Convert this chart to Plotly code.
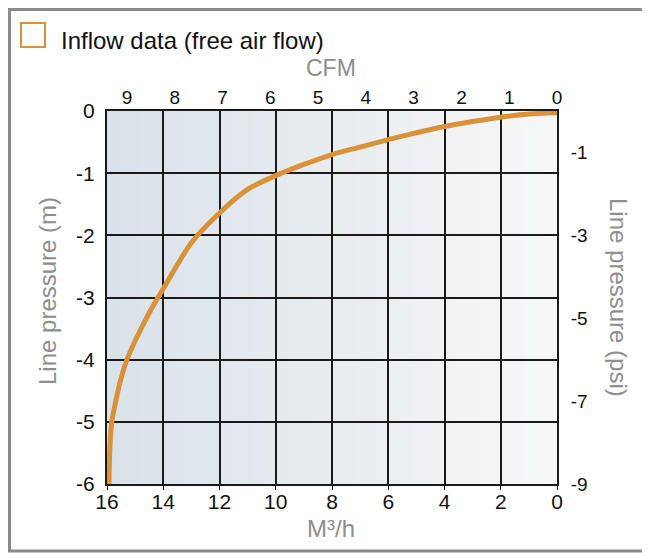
import plotly.graph_objects as go

# ---- data ----
flow_m3h = [0, 1, 2, 3, 4, 5, 6, 7, 8, 9, 10, 11, 12, 13, 14, 14.5, 15, 15.29, 15.5, 15.68, 15.83, 15.9, 15.93]
pressure_m = [-0.03, -0.05, -0.10, -0.17, -0.25, -0.35, -0.46, -0.58, -0.70, -0.86, -1.04, -1.26, -1.64, -2.12, -2.86, -3.25, -3.70, -4.0, -4.3, -4.65, -5.0, -5.45, -6.0]

m3h_ticks = [0, 2, 4, 6, 8, 10, 12, 14, 16]
m3h_labels = ["0", "2", "4", "6", "8", "10", "12", "14", "16"]
cfm_ticks = [0, 1, 2, 3, 4, 5, 6, 7, 8, 9]
cfm_labels = ["0", "1", "2", "3", "4", "5", "6", "7", "8", "9"]
m_ticks = [0, -1, -2, -3, -4, -5, -6]
m_labels = ["0", "-1", "-2", "-3", "-4", "-5", "-6"]
psi_ticks = [-1, -3, -5, -7, -9]
psi_labels = ["-1", "-3", "-5", "-7", "-9"]
M3H_PER_CFM = 1.699

FONT = "Liberation Sans, Arial, sans-serif"
TICKFONT = "Liberation Sans Narrow, Arial Narrow, Liberation Sans, Arial, sans-serif"
ORANGE = "#d99237"
GRID = "#1a1a1a"
GRAYTXT = "#8e8e8e"

# page pixel geometry (page has an 8px body offset)
OFF = 8
FW, FH = 642, 545
L, R, T, B = 107, 557, 111, 484
def px(xp):
    return (xp - L) / (R - L)
def py(yp):
    return (B - yp) / (B - T)

fig = go.Figure()
fig.add_trace(go.Scatter(x=flow_m3h, y=pressure_m, mode="lines",
                         line=dict(color=ORANGE, width=5, shape="spline", smoothing=0.8),
                         showlegend=False, hoverinfo="skip"))
fig.add_trace(go.Scatter(x=[None], y=[None], xaxis="x2", yaxis="y2", showlegend=False))

shapes = []
n = 40
c0 = (217, 226, 233)
c1 = (247, 247, 247)
for i in range(n):
    t = (i + 0.5) / n
    c = tuple(round(c0[k] + (c1[k] - c0[k]) * t) for k in range(3))
    shapes.append(dict(type="rect", xref="x domain", yref="y domain",
                       x0=i / n, x1=(i + 1) / n + 0.002, y0=0, y1=1,
                       fillcolor="rgb(%d,%d,%d)" % c, line=dict(width=0), layer="below"))
# outer frame: open on the right side
fx0, fx1, fy0, fy1 = px(9.5), px(700), py(551), py(9.5)
shapes.append(dict(type="path", xref="paper", yref="paper",
                   path="M %f,%f L %f,%f L %f,%f L %f,%f" % (fx1, fy1, fx0, fy1, fx0, fy0, fx1, fy0),
                   line=dict(color="#8a8a8a", width=3), layer="below"))
shapes.append(dict(type="rect", xref="paper", yref="paper",
                   x0=px(21), x1=px(45), y0=py(47), y1=py(23),
                   line=dict(color=ORANGE, width=2), fillcolor="rgba(0,0,0,0)"))

annotations = [
    dict(text="Inflow data (free air flow)", xref="paper", yref="paper", x=px(59), y=py(40),
         xanchor="left", yanchor="middle", showarrow=False, font=dict(family=FONT, size=24, color="#111")),
    dict(text="CFM", xref="paper", yref="paper", x=px(331), y=py(68),
         xanchor="center", yanchor="middle", showarrow=False, font=dict(family=FONT, size=23, color=GRAYTXT)),
    dict(text="M³/h", xref="paper", yref="paper", x=px(331), y=py(528),
         xanchor="center", yanchor="middle", showarrow=False, font=dict(family=FONT, size=24, color=GRAYTXT)),
    dict(text="Line pressure (m)", xref="paper", yref="paper", x=px(47), y=py(291), textangle=-90,
         xanchor="center", yanchor="middle", showarrow=False, font=dict(family=FONT, size=24, color=GRAYTXT)),
    dict(text="Line pressure (psi)", xref="paper", yref="paper", x=px(619), y=py(297), textangle=90,
         xanchor="center", yanchor="middle", showarrow=False, font=dict(family=FONT, size=24, color=GRAYTXT)),
]

fig.update_layout(
    width=FW, height=FH,
    margin=dict(l=L - OFF, r=FW - (R - OFF), t=T - OFF, b=FH - (B - OFF)),
    paper_bgcolor="white", plot_bgcolor="rgba(0,0,0,0)",
    showlegend=False,
    shapes=shapes, annotations=annotations,
    xaxis=dict(range=[16, 0], tickvals=m3h_ticks, ticktext=m3h_labels, showgrid=True, gridcolor=GRID,
               gridwidth=1.5, showline=True, linecolor=GRID, linewidth=2, ticks="outside", ticklen=4,
               tickcolor=GRID, ticklabelstandoff=-6,
               tickfont=dict(family=TICKFONT, size=21, color="#111"), zeroline=False, automargin=False),
    yaxis=dict(range=[-6, 0], tickvals=m_ticks, ticktext=m_labels, showgrid=True, gridcolor=GRID,
               gridwidth=1.5, showline=True, linecolor=GRID, linewidth=2, ticks="", ticklabelstandoff=6,
               tickfont=dict(family=TICKFONT, size=21, color="#111"), zeroline=False, automargin=False),
    xaxis2=dict(range=[16 / M3H_PER_CFM, 0], tickvals=cfm_ticks, ticktext=cfm_labels, overlaying="x",
                side="top", showgrid=False, showline=True, linecolor=GRID, linewidth=2, ticks="",
                ticklabelstandoff=-3,
                tickfont=dict(family=TICKFONT, size=19, color="#111"), zeroline=False, automargin=False),
    yaxis2=dict(range=[-9, 0], tickvals=psi_ticks, ticktext=psi_labels, overlaying="y", side="right",
                anchor="x", showgrid=False, showline=True, linecolor=GRID, linewidth=2, ticks="",
                ticklabelstandoff=8, tickfont=dict(family=TICKFONT, size=19, color="#111"),
                zeroline=False, automargin=False),
)

fig.write_html("out.html")
